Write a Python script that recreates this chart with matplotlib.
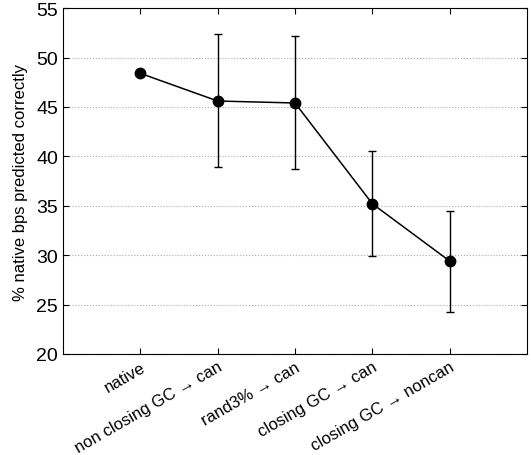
import numpy as np
import matplotlib.pyplot as plt

plt.rcParams['font.family'] = ['Liberation Sans', 'DejaVu Sans']

# data
labels = ["native", "non closing GC \u2192 can", "rand3% \u2192 can",
          "closing GC \u2192 can", "closing GC \u2192 noncan"]
mean = [48.4, 45.6, 45.4, 35.2, 29.4]
upper = [48.4, 52.4, 52.2, 40.5, 34.5]
lower = [48.4, 38.9, 38.7, 29.9, 24.3]

x = np.arange(len(labels))
err = [np.array(mean) - np.array(lower), np.array(upper) - np.array(mean)]

fig = plt.figure(figsize=(5.31, 4.56), dpi=100)
ax = fig.add_axes([0.1186, 0.2215, 0.874, 0.7585])

ax.errorbar(x, mean, yerr=err, color='black', marker='o', markersize=7.5,
            linewidth=1.1, elinewidth=1.0, capsize=3, capthick=1.0)

ax.set_xlim(-1, 5)
ax.set_ylim(20, 55)
ax.set_yticks(np.arange(20, 56, 5))
ax.set_xticks(x)
ax.set_xticklabels(labels, rotation=30, ha='right', rotation_mode='anchor', fontsize=12)
ax.tick_params(axis='y', labelsize=14)
ax.tick_params(direction='in', top=True, right=True, length=4)
ax.yaxis.grid(True, linestyle=':', color='#aaaaaa', linewidth=0.8)
ax.set_ylabel("% native bps predicted correctly", fontsize=12, labelpad=6)

fig.savefig("out.png", dpi=100)
